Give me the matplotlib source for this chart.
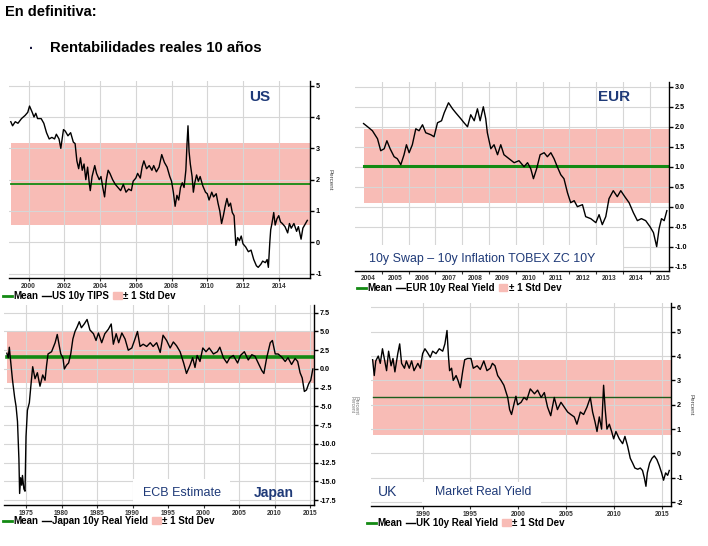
import matplotlib
matplotlib.use("Agg")
from matplotlib import pyplot as plt
from matplotlib.lines import Line2D
from matplotlib.patches import Patch, Rectangle

plt.rcParams['font.family'] = ['Liberation Sans', 'DejaVu Sans']
plt.rcParams['axes.unicode_minus'] = False

W, H = 708, 546
NAVY = '#1f3a78'
BAND = '#f8bcb6'
GRID = '#d6d6d6'
GREEN = '#138a13'

# ---- US 10y TIPS
us_years = [1999.0, 1999.1, 1999.25, 1999.4, 1999.6, 1999.8, 1999.95, 2000.05, 2000.2, 2000.3,
            2000.4, 2000.5, 2000.7, 2000.85, 2001.0, 2001.15, 2001.3, 2001.45, 2001.55, 2001.7,
            2001.8, 2001.95, 2002.05, 2002.2, 2002.35, 2002.5, 2002.6, 2002.7, 2002.8, 2002.9,
            2003.0, 2003.1, 2003.2, 2003.3, 2003.4, 2003.45, 2003.55, 2003.7, 2003.8, 2003.95,
            2004.05, 2004.15, 2004.25, 2004.35, 2004.45, 2004.55, 2004.7, 2004.85, 2005.0, 2005.15,
            2005.3, 2005.45, 2005.6, 2005.75, 2005.85, 2006.0, 2006.1, 2006.25, 2006.35, 2006.45,
            2006.6, 2006.75, 2006.9, 2007.0, 2007.15, 2007.3, 2007.45, 2007.6, 2007.75, 2007.9,
            2008.0, 2008.1, 2008.2, 2008.3, 2008.4, 2008.5, 2008.6, 2008.7, 2008.8, 2008.87,
            2008.92, 2008.98, 2009.05, 2009.15, 2009.22, 2009.3, 2009.4, 2009.5, 2009.6, 2009.75,
            2009.9, 2010.0, 2010.1, 2010.25, 2010.35, 2010.5, 2010.6, 2010.7, 2010.8, 2010.9,
            2011.0, 2011.1, 2011.2, 2011.3, 2011.4, 2011.5, 2011.55, 2011.6, 2011.7, 2011.8,
            2011.9, 2012.0, 2012.15, 2012.3, 2012.45, 2012.6, 2012.75, 2012.85, 2013.0, 2013.1,
            2013.25, 2013.35, 2013.42, 2013.5, 2013.55, 2013.62, 2013.72, 2013.8, 2013.9, 2014.0,
            2014.1, 2014.2, 2014.35, 2014.5, 2014.6, 2014.7, 2014.85, 2015.0, 2015.1, 2015.25,
            2015.35, 2015.45, 2015.6]
us_vals = [3.85, 3.72, 3.85, 3.8, 3.95, 4.05, 4.15, 4.35, 4.15, 4.0,
           4.12, 3.95, 3.95, 3.8, 3.5, 3.3, 3.35, 3.3, 3.45, 3.3,
           3.0, 3.6, 3.55, 3.4, 3.5, 3.2, 3.15, 2.6, 2.35, 2.7,
           2.3, 2.5, 2.0, 2.4, 1.85, 1.65, 2.1, 2.45, 2.2, 2.0,
           2.1, 1.75, 1.45, 2.0, 2.3, 2.2, 2.0, 1.85, 1.75, 1.65,
           1.85, 1.6, 1.7, 1.65, 1.95, 2.05, 2.2, 2.05, 2.4, 2.6,
           2.35, 2.45, 2.3, 2.45, 2.25, 2.4, 2.8, 2.55, 2.4, 2.1,
           1.95, 1.6, 1.15, 1.5, 1.35, 1.75, 1.9, 1.75, 2.3, 3.2,
           3.72, 2.9, 2.5, 2.1, 1.6, 1.9, 2.15, 1.95, 2.1, 1.8,
           1.6, 1.55, 1.35, 1.6, 1.45, 1.55, 1.25, 1.0, 0.6, 0.85,
           1.15, 1.4, 1.15, 1.25, 0.95, 0.85, 0.4, -0.1, 0.15, 0.05,
           0.2, -0.05, -0.15, -0.3, -0.25, -0.55, -0.75, -0.8, -0.7, -0.6,
           -0.65, -0.55, -0.8, 0.0, 0.4, 0.6, 0.95, 0.55, 0.75, 0.85,
           0.65, 0.6, 0.5, 0.3, 0.6, 0.45, 0.6, 0.35, 0.5, 0.1,
           0.45, 0.55, 0.7]
us_mean = 1.85
us_band = (0.55, 3.17)

# ---- EUR 10y real yield
eur_years = [2004.32, 2004.47, 2004.65, 2004.84, 2004.96, 2005.09, 2005.19, 2005.31, 2005.46, 2005.58,
             2005.71, 2005.83, 2005.92, 2006.02, 2006.14, 2006.27, 2006.39, 2006.52, 2006.64, 2006.83,
             2006.95, 2007.08, 2007.23, 2007.33, 2007.49, 2007.64, 2007.76, 2007.95, 2008.07, 2008.2,
             2008.32, 2008.45, 2008.57, 2008.67, 2008.79, 2008.88, 2008.94, 2009.07, 2009.19, 2009.32,
             2009.44, 2009.56, 2009.75, 2009.94, 2010.12, 2010.31, 2010.44, 2010.56, 2010.66, 2010.78,
             2010.91, 2011.06, 2011.18, 2011.31, 2011.43, 2011.55, 2011.68, 2011.8, 2011.93, 2012.05,
             2012.18, 2012.3, 2012.49, 2012.61, 2012.8, 2012.99, 2013.11, 2013.23, 2013.36, 2013.48,
             2013.64, 2013.79, 2013.92, 2014.07, 2014.23, 2014.39, 2014.54, 2014.69, 2014.85, 2015.01,
             2015.14, 2015.26, 2015.35, 2015.44, 2015.54, 2015.64]
eur_vals = [2.08, 2.0, 1.9, 1.7, 1.4, 1.45, 1.65, 1.45, 1.25, 1.2,
            1.05, 1.3, 1.55, 1.35, 1.55, 1.95, 1.9, 2.05, 1.85, 1.8,
            1.75, 2.1, 2.15, 2.35, 2.6, 2.45, 2.35, 2.2, 2.1, 2.0,
            2.3, 2.15, 2.45, 2.15, 2.5, 2.2, 1.85, 1.45, 1.55, 1.3,
            1.55, 1.3, 1.2, 1.1, 1.15, 1.0, 1.1, 0.95, 0.7, 0.95,
            1.3, 1.35, 1.25, 1.35, 1.2, 1.0, 0.8, 0.7, 0.35, 0.1,
            0.15, 0.0, 0.05, -0.25, -0.3, -0.4, -0.2, -0.45, -0.25, 0.2,
            0.4, 0.25, 0.4, 0.25, 0.1, -0.15, -0.35, -0.3, -0.35, -0.5,
            -0.65, -1.0, -0.55, -0.3, -0.35, -0.1]
eur_mean = 1.02
eur_band = (0.1, 1.94)

# ---- Japan 10y real yield (ECB estimate)
jp_years = [1972.3, 1972.5, 1972.65, 1972.84, 1973.1, 1973.4, 1973.6, 1973.8, 1974.0, 1974.1,
            1974.25, 1974.4, 1974.5, 1974.7, 1974.86, 1975.0, 1975.2, 1975.47, 1975.66, 1975.94,
            1976.27, 1976.6, 1976.97, 1977.35, 1977.68, 1977.9, 1978.1, 1978.6, 1979.1, 1979.4,
            1979.7, 1979.9, 1980.2, 1980.4, 1980.7, 1981.0, 1981.3, 1981.6, 1981.9, 1982.2,
            1982.5, 1982.8, 1983.2, 1983.6, 1984.0, 1984.5, 1984.86, 1985.2, 1985.66, 1986.1,
            1986.6, 1987.0, 1987.3, 1987.7, 1988.05, 1988.5, 1988.95, 1989.4, 1989.9, 1990.35,
            1990.7, 1991.06, 1991.5, 1992.0, 1992.5, 1992.9, 1993.4, 1993.9, 1994.3, 1994.8,
            1995.3, 1995.75, 1996.2, 1996.7, 1997.2, 1997.6, 1998.1, 1998.47, 1998.8, 1999.1,
            1999.5, 1999.9, 2000.35, 2000.8, 2001.4, 2001.95, 2002.3, 2002.8, 2003.3, 2003.7,
            2004.2, 2004.8, 2005.2, 2005.75, 2006.3, 2006.8, 2007.25, 2007.7, 2008.2, 2008.5,
            2008.9, 2009.4, 2009.7, 2010.1, 2010.5, 2011.0, 2011.5, 2011.9, 2012.4, 2012.9,
            2013.26, 2013.6, 2013.9, 2014.2, 2014.5, 2014.8, 2015.1, 2015.4]
jp_vals = [2.1, 1.5, 2.9, 1.0, -1.5, -3.8, -5.0, -7.0, -12.0, -16.6,
           -14.5, -15.5, -14.2, -16.0, -16.3, -9.0, -5.5, -4.5, -2.5, 0.3,
           -1.3, -0.5, -2.3, -0.8, -1.5, 0.5, 2.0, 2.3, 3.5, 4.6,
           3.0, 2.0, 1.5, 0.0, 0.5, 0.8, 2.0, 4.0, 5.0, 5.6,
           6.3, 5.5, 6.0, 6.6, 5.2, 4.7, 3.8, 4.8, 3.5, 4.7,
           5.3, 6.0, 3.3, 4.7, 3.5, 4.8, 4.0, 2.5, 2.8, 4.0,
           5.0, 3.0, 3.3, 3.0, 3.5, 3.0, 3.5, 2.2, 4.5, 3.8,
           2.8, 3.6, 3.1, 2.3, 0.8, -0.6, 0.5, 1.5, 0.2, 1.8,
           1.0, 2.8, 2.3, 2.8, 2.0, 2.3, 2.9, 1.5, 0.8, 1.5,
           1.8, 0.8, 1.8, 2.3, 1.2, 1.9, 1.7, 0.8, -0.2, -0.6,
           1.5, 3.5, 3.8, 2.0, 2.0, 1.6, 1.0, 1.5, 0.6, 1.4,
           1.0, -0.5, -1.2, -3.0, -2.8, -2.0, -1.5, 0.0]
jp_mean = 1.62
jp_band = (-1.83, 5.06)

# ---- UK 10y real yield (market)
uk_years = [1984.77, 1984.94, 1985.1, 1985.36, 1985.57, 1985.8, 1985.99, 1986.23, 1986.44, 1986.7,
            1986.9, 1987.1, 1987.4, 1987.6, 1987.8, 1988.1, 1988.3, 1988.6, 1988.85, 1989.1,
            1989.5, 1989.76, 1990.0, 1990.24, 1990.5, 1990.8, 1991.05, 1991.4, 1991.74, 1992.1,
            1992.33, 1992.55, 1992.7, 1992.82, 1993.03, 1993.2, 1993.5, 1993.7, 1993.94, 1994.2,
            1994.4, 1994.7, 1995.06, 1995.3, 1995.7, 1996.03, 1996.4, 1996.73, 1997.08, 1997.3,
            1997.57, 1997.85, 1998.2, 1998.5, 1998.9, 1999.1, 1999.3, 1999.6, 1999.76, 1999.94,
            2000.3, 2000.6, 2000.9, 2001.26, 2001.7, 2002.03, 2002.4, 2002.73, 2003.07, 2003.4,
            2003.77, 2004.1, 2004.47, 2004.82, 2005.17, 2005.5, 2005.86, 2006.14, 2006.5, 2006.84,
            2007.19, 2007.54, 2007.78, 2008.03, 2008.24, 2008.48, 2008.72, 2008.93, 2009.1, 2009.28,
            2009.53, 2009.77, 2009.98, 2010.22, 2010.57, 2010.92, 2011.16, 2011.44, 2011.72, 2011.97,
            2012.2, 2012.5, 2012.77, 2013.0, 2013.19, 2013.36, 2013.5, 2013.74, 2013.99, 2014.23,
            2014.5, 2014.75, 2015.0, 2015.2, 2015.42, 2015.63, 2015.8]
uk_vals = [3.85, 3.2, 3.8, 4.0, 3.7, 4.3, 3.9, 3.4, 4.2, 3.6,
           3.9, 3.35, 4.1, 4.5, 3.7, 3.5, 3.8, 3.5, 3.8, 3.4,
           3.7, 3.5, 4.1, 4.3, 4.15, 3.95, 4.2, 4.1, 4.3, 4.2,
           4.5, 5.05, 4.0, 3.4, 3.5, 3.0, 3.2, 3.0, 2.7, 3.4,
           3.85, 3.9, 3.9, 3.5, 3.6, 3.45, 3.8, 3.4, 3.5, 3.7,
           3.6, 3.2, 3.0, 2.8, 2.3, 1.8, 1.6, 2.1, 2.35, 2.0,
           2.1, 2.3, 2.2, 2.65, 2.45, 2.6, 2.3, 2.5, 1.9, 1.55,
           2.3, 1.8, 2.1, 1.9, 1.7, 1.6, 1.5, 1.2, 1.7, 1.6,
           1.9, 2.3, 1.7, 1.3, 0.9, 1.5, 1.0, 2.8, 1.8, 1.0,
           1.2, 0.9, 0.6, 0.9, 0.6, 0.4, 0.7, 0.3, -0.2, -0.4,
           -0.6, -0.65, -0.6, -0.7, -1.0, -1.35, -0.8, -0.4, -0.2, -0.1,
           -0.25, -0.5, -0.8, -1.1, -0.8, -0.9, -0.7]
uk_mean = 2.3
uk_band = (0.75, 3.84)


def box(l, t, r, b):
    return [l / W, 1 - b / H, (r - l) / W, (b - t) / H]


def panel(fig, rect, years, vals, mean, band, xlim, ylim, yticks, yfmt, mean_lw):
    ax = fig.add_axes(rect)
    x0 = years[0]
    ax.fill_between([x0, xlim[1]], band[0], band[1], color=BAND, lw=0, zorder=1)
    ax.plot([x0, xlim[1]], [mean, mean], color=GREEN, lw=mean_lw, zorder=2)
    ax.plot(years, vals, color='black', lw=1.0, zorder=3)
    ax.set_xlim(xlim)
    ax.set_ylim(ylim)
    ax.set_yticks(yticks)
    ax.set_yticklabels([yfmt.format(v) for v in yticks])
    ax.yaxis.tick_right()
    for s in ['left', 'top']:
        ax.spines[s].set_visible(False)
    ax.spines['right'].set_linewidth(1.0)
    ax.spines['bottom'].set_linewidth(1.0)
    ax.grid(True, color=GRID, lw=0.8)
    ax.tick_params(axis='y', direction='out', length=3, width=1.0, pad=1, labelsize=5.2)
    ax.tick_params(axis='x', direction='out', length=2, width=0.8, pad=1.5, labelsize=4.8,
                   colors='#333333')
    for lab in ax.get_xticklabels() + ax.get_yticklabels():
        lab.set_fontweight('bold')
    return ax


def legend_row(fig, x, y, name):
    handles = [Line2D([], [], color=GREEN, lw=2),
               Line2D([], [], color='black', lw=1),
               Patch(color=BAND)]
    fig.legend(handles, ['Mean', name, '± 1 Std Dev'], loc='center left',
               bbox_to_anchor=(x / W, 1 - y / H), ncol=3, frameon=False,
               borderpad=0, borderaxespad=0, handlelength=0.9, handletextpad=0.15,
               columnspacing=0.4, handleheight=0.6,
               prop={'size': 7, 'weight': 'bold'})


fig = plt.figure(figsize=(7.08, 5.46), dpi=100)

fig.text(5 / W, 1 - 12 / H, 'En definitiva:', fontsize=10.5, fontweight='bold', va='center')
fig.text(29 / W, 1 - 49 / H, '·', fontsize=10, fontweight='bold', va='center', color='#1a1a40')
fig.text(50 / W, 1 - 48 / H, 'Rentabilidades reales 10 años', fontsize=10.7, fontweight='bold',
         va='center')

# US
ax = panel(fig, box(9, 81, 310, 278), us_years, us_vals, us_mean, us_band,
           (1998.9, 2015.75), (-1.14, 5.15), [5, 4, 3, 2, 1, 0, -1], '{:d}', 1.3)
ax.set_xticks(range(2000, 2015, 2))
ax.text(0.834, 0.92, 'US', transform=ax.transAxes, fontsize=11, fontweight='bold',
        color=NAVY, ha='center', va='center')
fig.text(330 / W, 1 - 180 / H, 'Percent', rotation=-90, fontsize=4.5, ha='center',
         va='center', color='#444444')
legend_row(fig, 3, 296, 'US 10y TIPS')

# EUR
ax = panel(fig, box(355, 82, 669, 271), eur_years, eur_vals, eur_mean, eur_band,
           (2004.0, 2015.72), (-1.61, 3.12), [3.0, 2.5, 2.0, 1.5, 1.0, 0.5, 0.0, -0.5, -1.0, -1.5],
           '{:.1f}', 2.2)
ax.set_xticks(range(2005, 2016))
ax.set_xticklabels([])
ax.set_xticks([y + 0.5 for y in range(2004, 2016)], minor=True)
ax.set_xticklabels([str(y) for y in range(2004, 2016)], minor=True)
ax.tick_params(axis='x', which='minor', length=0, pad=3, labelsize=4.8, colors='#333333')
for lab in ax.get_xticklabels(minor=True):
    lab.set_fontweight('bold')
ax.add_patch(Rectangle((2004.0, -1.61), 10.0, 0.66, color='white', lw=0, zorder=1.8))
ax.text(0.825, 0.92, 'EUR', transform=ax.transAxes, fontsize=11, fontweight='bold',
        color=NAVY, ha='center', va='center')
ax.text(2004.52, -1.3, '10y Swap – 10y Inflation TOBEX ZC 10Y', fontsize=8.9, color=NAVY,
        ha='left', va='center', zorder=4)
legend_row(fig, 357, 288, 'EUR 10y Real Yield')

# Japan
ax = panel(fig, box(4, 305, 314, 505), jp_years, jp_vals, jp_mean, jp_band,
           (1971.9, 2015.56), (-18.14, 8.53),
           [7.5, 5.0, 2.5, 0.0, -2.5, -5.0, -7.5, -10.0, -12.5, -15.0, -17.5], '{:.1f}', 2.6)
ax.set_xticks(range(1975, 2016, 5))
ax.add_patch(Rectangle((1990.1, -18.14), 13.6, 3.45, color='white', lw=0, zorder=1.8))
ax.text(1997.0, -16.5, 'ECB Estimate', fontsize=9, color=NAVY, ha='center', va='center',
        zorder=4)
ax.text(2009.9, -16.6, 'Japan', fontsize=10, fontweight='bold', color=NAVY, ha='center',
        va='center', zorder=4)
fig.text(352 / W, 1 - 405 / H, 'Percent', rotation=-90, fontsize=3.5, ha='center',
         va='center', color='#777777')
legend_row(fig, 3, 521, 'Japan 10y Real Yield')

# UK
ax = panel(fig, box(371, 303, 671, 506), uk_years, uk_vals, uk_mean, uk_band,
           (1984.6, 2015.98), (-2.16, 6.18), [6, 5, 4, 3, 2, 1, 0, -1, -2], '{:d}', 1.0)
ax.lines[0].set_color('#1d5e1d')
ax.set_xticks(range(1990, 2016, 5))
ax.add_patch(Rectangle((1989.9, -2.16), 12.5, 0.98, color='white', lw=0, zorder=1.8))
ax.text(1986.3, -1.6, 'UK', fontsize=10, color=NAVY, ha='center', va='center', zorder=4)
ax.text(1996.3, -1.6, 'Market Real Yield', fontsize=8.8, color=NAVY, ha='center',
        va='center', zorder=4)
fig.text(691 / W, 1 - 405 / H, 'Percent', rotation=-90, fontsize=4.5, ha='center',
         va='center', color='#444444')
fig.text(356 / W, 1 - 405 / H, 'Percent', rotation=-90, fontsize=4, ha='center',
         va='center', color='#777777')
legend_row(fig, 367, 523, 'UK 10y Real Yield')

fig.savefig('out.png', dpi=100)
